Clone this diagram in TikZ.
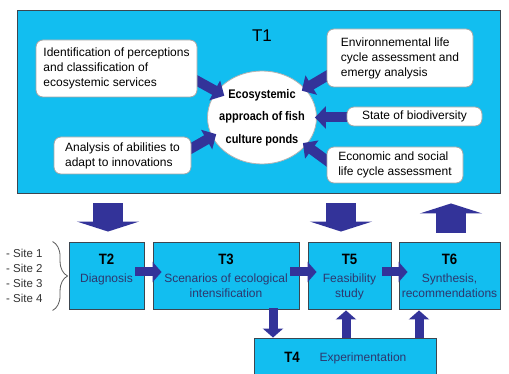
\documentclass[tikz,border=0pt]{standalone}
\usepackage{fontspec}
\setmainfont{Liberation Sans}
\newfontfamily\nbfont{Liberation Sans}[FakeStretch=0.88]
\usetikzlibrary{arrows.meta,calc,decorations.pathreplacing,shapes.geometric}
\definecolor{boxcyan}{RGB}{18,190,240}
\definecolor{arrowblue}{RGB}{51,51,153}
\definecolor{edgegray}{RGB}{60,70,80}
\definecolor{desctext}{RGB}{45,55,110}
\begin{document}
\begin{tikzpicture}[x=1pt,y=1pt,
 whitebox/.style={draw=gray!70, fill=white, rounded corners=7pt, line width=0.8pt, align=left, font=\fontsize{12}{15}\selectfont, inner sep=0pt},
 tbox/.style={draw=edgegray, fill=boxcyan, line width=0.9pt, inner sep=0pt},
 tlab/.style={font=\nbfont\bfseries\fontsize{15}{18}\selectfont, anchor=base, inner sep=0pt},
 tdesc/.style={font=\fontsize{12}{15}\selectfont, text=desctext, align=center, anchor=north, inner sep=0pt},
 ringarrow/.style={arrowblue, line width=10pt, -{Triangle[width=22pt,length=11pt]}},
 smallarrow/.style={arrowblue, line width=9pt, -{Triangle[width=20pt,length=9pt]}},
 bigarrow/.style={arrowblue, line width=30pt, -{Triangle[width=62pt,length=10pt]}},
]
\useasboundingbox (0,0) rectangle (509,-374);
\fill[white] (0,0) rectangle (509,-374);
\begin{scope}
\clip (0,0) rectangle (509,-374);
% T1 frame
\node[tbox, minimum width=483pt, minimum height=183pt] (T1) at (258.5,-101.5) {};
\node[font=\fontsize{17}{20}\selectfont, inner sep=0pt] (t1lab) at (262,-36) {T1};
% central ellipse
\node[ellipse, draw=gray!60, fill=white, line width=0.8pt, minimum width=109pt, minimum height=93pt, inner sep=0pt] (circ) at (262,-117.5) {};
\node[align=center, inner sep=0pt, font=\nbfont\bfseries\fontsize{12.5}{22.5}\selectfont] (circtext) at (circ.center) {Ecosystemic\\approach of fish\\culture ponds};
% white boxes (positions)
\path (116.5,-68.5) coordinate (idc) (400,-58) coordinate (envc) (414.5,-116.5) coordinate (bioc) (122.5,-155.5) coordinate (anac) (395,-165) coordinate (ecoc);
% invisible nodes to define anchors
\node[minimum width=161pt, minimum height=57pt, inner sep=0pt] (idbox) at (idc) {};
\node[minimum width=146pt, minimum height=58pt, inner sep=0pt] (envbox) at (envc) {};
\node[minimum width=135pt, minimum height=19pt, inner sep=0pt] (biobox) at (bioc) {};
\node[minimum width=137pt, minimum height=37pt, inner sep=0pt] (anabox) at (anac) {};
\node[minimum width=136pt, minimum height=36pt, inner sep=0pt] (ecobox) at (ecoc) {};
% arrows to ellipse
\draw[ringarrow] ($(idbox.east)+(-6,-9)$) -- ($(circ.150)!9pt!(circ.center)$);
\draw[ringarrow] ($(envbox.west)+(10,-12)$) -- ($(circ.34)!4pt!(circ.center)$);
\draw[ringarrow] ($(biobox.west)+(8,-1)$) -- ($(circ.0)!2pt!(circ.center)$);
\draw[ringarrow] ($(anabox.east)+(-9,2)$) -- ($(circ.200)!5pt!(circ.center)$);
\draw[ringarrow] ($(ecobox.west)+(6,0)$) -- ($(circ.-32)!4pt!(circ.center)$);
% white boxes on top
\node[whitebox, minimum width=161pt, minimum height=57pt] at (idc) {Identification of perceptions\\and classification of\\ecosystemic services};
\node[whitebox, minimum width=146pt, minimum height=58pt] at (envc) {Environnemental life\\cycle assessment and\\emergy analysis};
\node[whitebox, minimum width=135pt, minimum height=19pt, align=center] at (bioc) {State of biodiversity};
\node[whitebox, minimum width=137pt, minimum height=37pt] at (anac) {Analysis of abilities to\\adapt to innovations};
\node[whitebox, minimum width=136pt, minimum height=36pt] at (ecoc) {Economic and social\\life cycle assessment};
% lower boxes
\node[tbox, minimum width=75pt, minimum height=67pt] (T2) at (106.5,-275.5) {};
\node[tbox, minimum width=146pt, minimum height=67pt] (T3) at (226,-275.5) {};
\node[tbox, minimum width=83pt, minimum height=67pt] (T5) at (349.5,-275.5) {};
\node[tbox, minimum width=101pt, minimum height=67pt] (T6) at (449.5,-275.5) {};
\node[tbox, minimum width=182pt, minimum height=42pt] (T4) at (345,-359) {};
\node[tlab] (t2lab) at ($(T2.north)+(0,-23)$) {T2};
\node[tlab] (t3lab) at ($(T3.north)+(0,-23)$) {T3};
\node[tlab] (t5lab) at ($(T5.north)+(0,-23)$) {T5};
\node[tlab] (t6lab) at ($(T6.north)+(0,-23)$) {T6};
\node[tlab] (t4lab) at ($(T4.north)+(-53,-25)$) {T4};
\node[tdesc] (t2desc) at ($(T2.north)+(0,-32.3)$) {Diagnosis};
\node[tdesc] (t3desc) at ($(T3.north)+(0,-32.3)$) {Scenarios of ecological\\intensification};
\node[tdesc] (t5desc) at ($(T5.north)+(0,-32.3)$) {Feasibility\\study};
\node[tdesc] (t6desc) at ($(T6.north)+(0,-32.3)$) {Synthesis,\\recommendations};
\node[font=\fontsize{12}{15}\selectfont, text=desctext, anchor=base, inner sep=0pt] (t4desc) at ($(T4.north)+(18,-24)$) {Experimentation};
% small arrows
\draw[smallarrow] ($(T2.east)+(-9,3.5)$) -- ($(T3.west)+(9,3.5)$);
\draw[smallarrow] ($(T3.east)+(-9,3.5)$) -- ($(T5.west)+(9,3.5)$);
\draw[smallarrow] ($(T5.east)+(-9,3.5)$) -- ($(T6.west)+(9,3.5)$);
\draw[smallarrow] ($(T3.south)+(47,1)$) -- ($(T4.north -| T3.south)+(47,0)$);
\draw[smallarrow] ($(T5.south |- T4.north)+(-3.5,0)$) -- ($(T5.south)+(-3.5,-1)$);
\draw[smallarrow] ($(T6.south |- T4.north)+(-30.5,0)$) -- ($(T6.south)+(-30.5,-1)$);
% big arrows
\draw[bigarrow] ($(T1.south -| T2.north)+(1.5,-10)$) -- ($(T2.north)+(1.5,10)$);
\draw[bigarrow] ($(T1.south -| T5.north)+(-8.5,-10)$) -- ($(T5.north)+(-8.5,10)$);
\draw[bigarrow] ($(T6.north)+(1.5,9)$) -- ($(T1.south -| T6.north)+(1.5,-10)$);
% sites and brace
\node[align=left, anchor=west, inner sep=0pt, text=black!80, font=\fontsize{11.5}{15}\selectfont] (sites) at (6,-275.5) {- Site 1\\- Site 2\\- Site 3\\- Site 4};
\draw[decorate, decoration={brace, amplitude=15pt}, draw=black!65, line width=0.8pt] ($(T2.north west)+(-16,0)$) -- ($(T2.south west)+(-16,-1)$);
\end{scope}
\end{tikzpicture}
\end{document}
